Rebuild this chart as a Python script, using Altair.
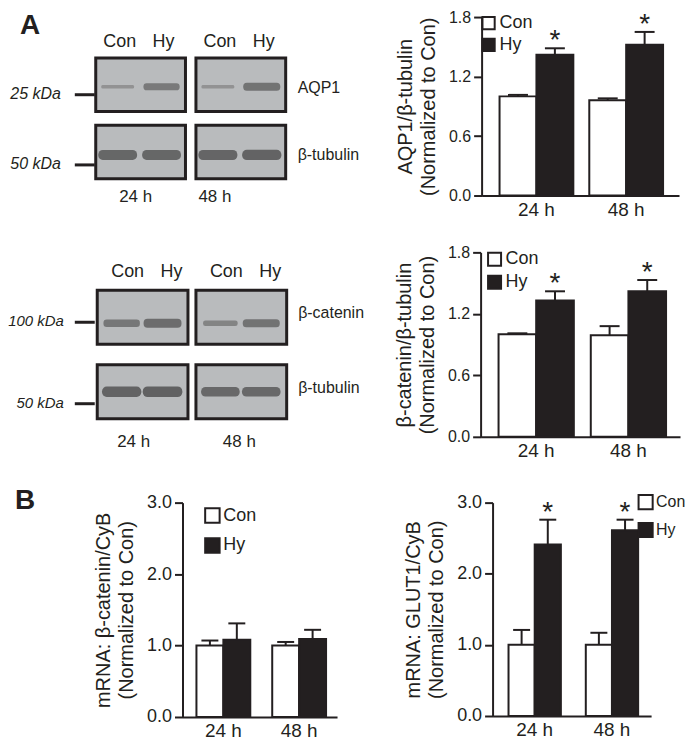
import altair as alt
import pandas as pd

FONT = "Liberation Sans"
INK = "#231f20"
GEL = "#b9bbbd"

times = ["24 h", "48 h"]
groups = ["Con", "Hy"]

# ---- Panel A: densitometry (normalized to Con); order Con24, Hy24, Con48, Hy48
aqp1_mean = [1.00, 1.42, 0.96, 1.52]
aqp1_sem = [0.015, 0.065, 0.02, 0.13]
aqp1_sig = [0, 1, 0, 1]

bcat_mean = [1.00, 1.33, 0.99, 1.42]
bcat_sem = [0.01, 0.09, 0.09, 0.11]
bcat_sig = [0, 1, 0, 1]

# ---- Panel B: mRNA
mbcat_mean = [1.00, 1.08, 1.00, 1.09]
mbcat_sem = [0.07, 0.23, 0.05, 0.13]
mbcat_sig = [0, 0, 0, 0]

glut1_mean = [1.00, 2.41, 1.00, 2.61]
glut1_sem = [0.21, 0.35, 0.17, 0.15]
glut1_sig = [0, 1, 0, 1]

# ---- Western blot band intensities (visual estimate, 0-1)
blot1_rows = ["AQP1", "β-tubulin"]
blot1_target = [0.45, 0.68, 0.45, 0.74]
blot1_tubulin = [0.86, 0.86, 0.87, 0.89]
blot1_kda = ["25 kDa", "50 kDa"]

blot2_rows = ["β-catenin", "β-tubulin"]
blot2_target = [0.70, 0.80, 0.58, 0.74]
blot2_tubulin = [0.89, 0.91, 0.84, 0.84]
blot2_kda = ["100 kDa", "50 kDa"]


def band_scale(domain, extent, start, band, gap):
    n = len(domain)
    step = band + gap
    p_in = gap / step
    span = step * (n - p_in)
    outer = extent - span
    p_out = outer / (2 * step)
    align = start / outer
    return alt.Scale(domain=domain, paddingInner=p_in, paddingOuter=p_out, align=align)


def blot(rows, target, tubulin, kda, W, H, xg, yg, g, title=None):
    cells = pd.DataFrame([{"time": t, "row": r} for r in rows for t in times])
    pairs = [(t, l) for t in times for l in groups]
    bands = pd.DataFrame([{"time": t, "lane": l, "row": r, "intensity": v}
                          for r, vals in zip(rows, [target, tubulin])
                          for (t, l), v in zip(pairs, vals)])
    lanes = pd.DataFrame([{"time": t, "lane": l, "row": rows[0]} for t, l in pairs])
    tlab = pd.DataFrame([{"time": t, "row": rows[1]} for t in times])
    names = pd.DataFrame([{"time": times[1], "row": r} for r in rows])
    kdas = pd.DataFrame([{"time": times[0], "row": r, "kda": k} for r, k in zip(rows, kda)])

    X = alt.X("time:N", scale=band_scale(times, W, *xg), axis=None)
    Y = alt.Y("row:N", scale=band_scale(rows, H, *yg), axis=None)
    shade = alt.Scale(domain=[0.4, 1.0], range=["#8a8a8a", "#303030"])

    layers = [alt.Chart(cells).mark_rect(fill=GEL, stroke=INK, strokeWidth=3).encode(x=X, y=Y)]
    for r, dy in zip(rows, g["band_dy"]):
        for lane, ox in zip(groups, g["lane_x"]):
            layers.append(
                alt.Chart(bands).transform_filter((alt.datum.row == r) & (alt.datum.lane == lane))
                .mark_tick(orient="horizontal", size=30, thickness=1, xOffset=ox, yOffset=dy,
                           strokeJoin="round")
                .encode(x=X, y=Y,
                        fill=alt.Fill("intensity:Q", scale=shade, legend=None),
                        stroke=alt.Stroke("intensity:Q", scale=shade, legend=None),
                        strokeWidth=alt.StrokeWidth("intensity:Q",
                                                    scale=alt.Scale(domain=[0.4, 1.0], range=[2, 11]),
                                                    legend=None))
            )
    for lane, ox in zip(groups, g["label_x"]):
        layers.append(
            alt.Chart(lanes).transform_filter(alt.datum.lane == lane)
            .mark_text(font=FONT, fontSize=18, color=INK, baseline="middle", dy=g["lane_dy"], dx=ox)
            .encode(x=X, y=Y, text="lane:N")
        )
    for t, dx in zip(times, g["time_dx"]):
        layers.append(
            alt.Chart(tlab).transform_filter(alt.datum.time == t)
            .mark_text(font=FONT, fontSize=17, color=INK, baseline="middle", dy=g["time_dy"], dx=dx)
            .encode(x=X, y=Y, text="time:N")
        )
    layers.append(
        alt.Chart(names).mark_text(font=FONT, fontSize=16, color=INK, baseline="middle", align="left",
                                   dx=g["name_dx"], dy=g["name_dy"])
        .encode(x=X, y=Y, text="row:N")
    )
    for r, dy in zip(rows, g["kda_dy"]):
        layers.append(
            alt.Chart(kdas).transform_filter(alt.datum.row == r)
            .mark_text(font=FONT, fontSize=g["kda_size"], fontStyle="italic", color=INK, baseline="middle",
                       align="right", dx=g["kda_dx"], dy=dy)
            .encode(x=X, y=Y, text="kda:N")
        )
        layers.append(
            alt.Chart(kdas).transform_filter(alt.datum.row == r)
            .mark_tick(orient="horizontal", size=20, thickness=3, color=INK, opacity=1,
                       xOffset=g["mark_dx"], yOffset=dy + 1)
            .encode(x=X, y=Y)
        )
    ch = alt.layer(*layers).properties(width=W, height=H)
    if title:
        ch = ch.properties(title=alt.TitleParams(title, anchor="start", frame="group", fontSize=28,
                                                 fontWeight="bold", font=FONT, color=INK,
                                                 offset=0, dx=7, dy=23))
    return ch


def bars(mean, sem, sig, ymax, ticks, ytitle, W, H, xg, leg, cap, lab_size):
    df = pd.DataFrame({
        "time": [t for t in times for _ in groups],
        "group": [gname for _ in times for gname in groups],
        "mean": mean, "sem": sem, "sig": sig,
    })
    bar_w = xg[1] / 2.0
    yaxis = alt.Axis(values=ticks, format=".1f", title=ytitle, grid=False,
                     domainColor=INK, domainWidth=2, tickColor=INK, tickWidth=2, tickSize=8,
                     labelFont=FONT, labelFontSize=lab_size, labelColor=INK, labelPadding=3,
                     titleFont=FONT, titleFontSize=20, titleFontWeight="normal", titleColor=INK,
                     titlePadding=10, titleLineHeight=23)
    yscale = alt.Scale(domain=[0, ymax], nice=False, zero=True)
    X = alt.X("time:N", scale=band_scale(times, W, *xg),
              axis=alt.Axis(title=None, labelAngle=0, ticks=False, domainColor=INK, domainWidth=2,
                            labelFont=FONT, labelFontSize=19, labelColor=INK, labelPadding=5))
    fill = alt.Fill("group:N", scale=alt.Scale(domain=groups, range=["white", INK]),
                    legend=alt.Legend(title=None, orient="none", legendX=leg[0], legendY=leg[1],
                                      direction="vertical", symbolType="square", symbolSize=leg[2],
                                      symbolStrokeColor=INK, symbolStrokeWidth=2,
                                      labelFont=FONT, labelFontSize=leg[4], labelColor=INK,
                                      labelOffset=2, rowPadding=leg[3], padding=0, labelLimit=60))
    base = alt.Chart(df).encode(x=X).transform_calculate(upper="datum.mean + datum.sem")

    layers = []
    for gname, sign in zip(groups, [-1, 1]):
        ox = sign * bar_w / 2.0
        sub = base.transform_filter(alt.datum.group == gname)
        layers.append(sub.mark_bar(width=bar_w, xOffset=ox, stroke=INK, strokeWidth=2).encode(
            y=alt.Y("mean:Q", scale=yscale, axis=yaxis), fill=fill))
    for gname, sign in zip(groups, [-1, 1]):
        ox = sign * bar_w / 2.0
        sub = base.transform_filter(alt.datum.group == gname)
        layers.append(sub.mark_rule(color=INK, strokeWidth=2, xOffset=ox).encode(
            y=alt.Y("mean:Q", scale=yscale, axis=yaxis), y2="upper:Q"))
        layers.append(sub.mark_tick(orient="horizontal", color=INK, size=cap, thickness=2, opacity=1,
                                    xOffset=ox).encode(y=alt.Y("upper:Q", scale=yscale, axis=yaxis)))
        layers.append(sub.transform_filter("datum.sig == 1").mark_text(
            text="*", font=FONT, fontSize=28, color=INK, baseline="alphabetic", dy=1, xOffset=ox).encode(
            y=alt.Y("upper:Q", scale=yscale, axis=yaxis)))
    return alt.layer(*layers).properties(width=W, height=H)


# ---------------- assemble ----------------
blotA1 = blot(blot1_rows, blot1_target, blot1_tubulin, blot1_kda, 383, 180,
              (83, 90, 10.5), (41, 53.8, 13.6),
              dict(lane_x=[-23, 21], label_x=[-21, 23], band_dy=[2, 3], lane_dy=-43, time_dy=45,
                   time_dx=[-5, -26], name_dx=57, name_dy=3, kda_dy=[9, 12], kda_dx=-80,
                   kda_size=16, mark_dx=-56), title="A")
barA1 = bars(aqp1_mean, aqp1_sem, aqp1_sig, 1.8, [0, 0.6, 1.2, 1.8],
             ["AQP1/β-tubulin", "(Normalized to Con)"], 198, 179,
             (18, 74, 16), (-2, -3, 150, 0, 18), 20, 16)

blotA2 = blot(blot2_rows, blot2_target, blot2_tubulin, blot2_kda, 382, 185,
              (84.5, 91, 8), (38, 54.2, 20.5),
              dict(lane_x=[-21, 20], label_x=[-15, 29], band_dy=[6, 0], lane_dy=-45, time_dy=50,
                   time_dx=[-9, -2], name_dx=57, name_dy=-4, kda_dy=[4, 11], kda_dx=-79,
                   kda_size=15, mark_dx=-58))
barA2 = bars(bcat_mean, bcat_sem, bcat_sig, 1.8, [0, 0.6, 1.2, 1.8],
             ["β-catenin/β-tubulin", "(Normalized to Con)"], 200, 185,
             (18, 75.5, 17), (5, -2, 170, 1, 18), 20, 16)

sp = pd.DataFrame({"t": [""]})
spacer1 = alt.Chart(sp).mark_text().encode(text="t:N").properties(
    width=80, height=1,
    title=alt.TitleParams("B", anchor="start", frame="group", fontSize=28, fontWeight="bold",
                          font=FONT, color=INK, offset=0, dx=2, dy=18))
spacer2 = alt.Chart(sp).mark_text().encode(text="t:N").properties(width=66, height=1)

barB1 = bars(mbcat_mean, mbcat_sem, mbcat_sig, 3.0, [0, 1, 2, 3],
             ["mRNA: β-catenin/CyB", "(Normalized to Con)"], 155, 215,
             (14, 54, 22), (21, 4, 210, 6, 18), 17, 18)
barB2 = bars(glut1_mean, glut1_sem, glut1_sig, 3.0, [0, 1, 2, 3],
             ["mRNA: GLUT1/CyB", "(Normalized to Con)"], 159, 214,
             (16, 52.5, 25), (145, -9, 200, 5, 16), 17, 18)

rowA1 = alt.hconcat(blotA1, barA1, spacing=0).resolve_scale(fill="independent").resolve_legend(fill="independent")
rowA2 = alt.hconcat(blotA2, barA2, spacing=0).resolve_scale(fill="independent").resolve_legend(fill="independent")
rowB = alt.hconcat(spacer1, barB1, spacer2, barB2, spacing=0).resolve_scale(fill="independent").resolve_legend(fill="independent")

panelA = alt.vconcat(rowA1, rowA2, spacing=25).resolve_scale(fill="independent").resolve_legend(fill="independent")

chart = (
    alt.vconcat(panelA, rowB, spacing=26)
    .resolve_scale(fill="independent")
    .resolve_legend(fill="independent")
    .properties(padding={"left": 0, "top": 0, "right": 0, "bottom": 0}, background="white")
    .configure_view(strokeWidth=0)
)

chart.save("out.html", embed_options={"renderer": "svg", "actions": False})
